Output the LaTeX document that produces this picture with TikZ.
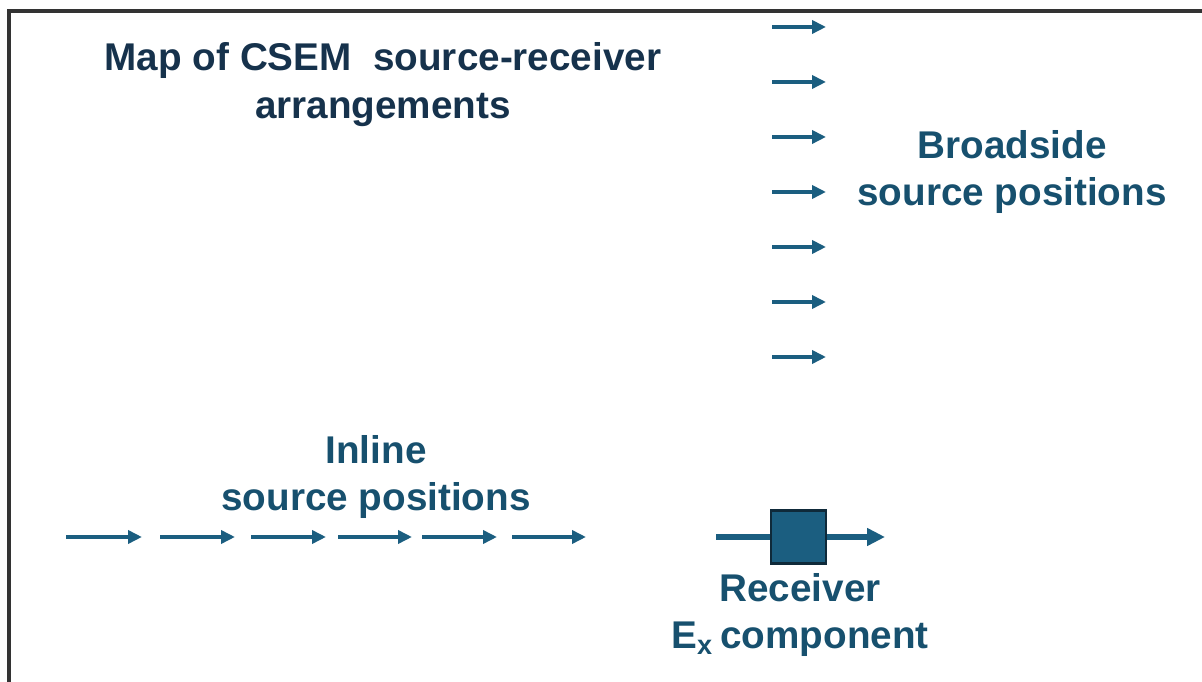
\documentclass[tikz,border=0pt]{standalone}
\usepackage{fontspec}
\setmainfont{Liberation Sans}
\usepackage{xcolor}
\usepackage{tikz}
\usetikzlibrary{positioning, arrows.meta, calc}

\definecolor{csemblue}{HTML}{1B5E80}
\definecolor{csemtext}{HTML}{17506E}
\definecolor{csemnavy}{HTML}{16324C}
\definecolor{csemedge}{HTML}{0F2A3A}

\tikzset{
    label text/.style={font=\bfseries\fontsize{11}{13.6}\selectfont, align=center, text=csemtext, inner sep=0pt},
    src arrow/.style={csemblue, line width=1.1pt, -{Triangle[length=0.14cm, width=0.13cm]}},
    rx arrow/.style={csemblue, line width=1.5pt, -{Triangle[length=0.18cm, width=0.17cm]}},
    rx box/.style={draw=csemedge, line width=0.7pt, fill=csemblue, minimum width=0.55cm, minimum height=0.53cm, inner sep=0pt}
}

\begin{document}
\begin{tikzpicture}
        \useasboundingbox (0,0) rectangle (12.02,6.82);
        % The frame
        \draw[line width=0.9pt, black!80] (0.09,0) -- (0.09,6.71) -- (12.02,6.71);

        % Labels
        \node[label text, text=csemnavy] (title) at (3.83, 5.97) {Map of CSEM\ \ source-receiver\\arrangements};
        \node[label text] (broadside) at (10.12, 5.10) {Broadside\\source positions};
        \node[label text] (inline) at (3.76, 2.05) {Inline\\source positions};

        % Broadside source positions
        \foreach \y in {6.55, 6.00, 5.45, 4.90, 4.35, 3.80, 3.25}
            \draw[src arrow] (7.72,\y) -- (8.26,\y);

        % Inline source positions
        \foreach \a/\b in {0.66/1.42, 1.60/2.35, 2.51/3.26, 3.38/4.12, 4.22/4.97, 5.12/5.86}
            \draw[src arrow] (\a,1.45) -- (\b,1.45);

        % The receiver
        \coordinate (rxin) at (7.16,1.45);
        \coordinate (rxout) at (8.85,1.45);
        \draw[rx arrow] (rxin) -- (rxout);
        \node[rx box] (rx) at (7.985,1.45) {};
        \node[label text] (rxlabel) at (8.00, 0.67) {Receiver\\E\textsubscript{x}\,component};
\end{tikzpicture}
\end{document}
